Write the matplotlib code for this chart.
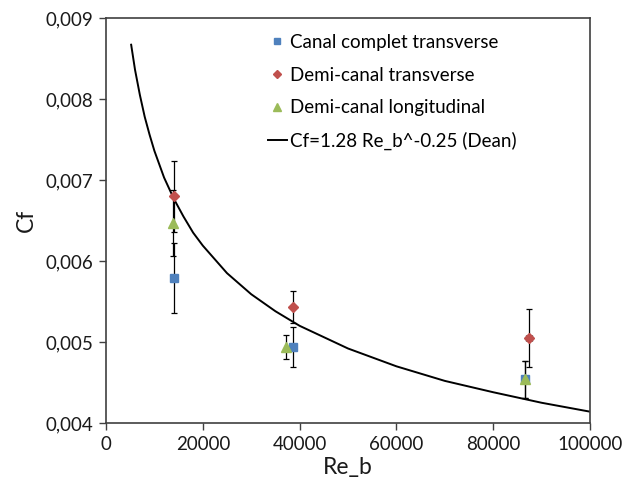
import matplotlib
matplotlib.use("Agg")
import matplotlib.pyplot as plt
import matplotlib.ticker as mticker

plt.rcParams['font.family'] = ['Lato', 'DejaVu Sans']

# measured points (Re_b, Cf, error in Cf, error in Re_b)
re_complet = [14000, 38600, 86500]
cf_complet = [0.00579, 0.00494, 0.00454]
err_complet = [0.00043, 0.00025, 0.00023]
xerr_complet = [0, 0, 600]

re_demi_tr = [14000, 38600, 87400]
cf_demi_tr = [0.00680, 0.00543, 0.00505]
err_demi_tr = [0.00044, 0.00020, 0.00036]
xerr_demi_tr = [0, 0, 600]

re_demi_lo = [13800, 37200, 86500]
cf_demi_lo = [0.00647, 0.00494, 0.00454]
err_demi_lo = [0.00041, 0.00015, 0.00023]
xerr_demi_lo = [0, 0, 600]

# Dean correlation curve
re_dean = [5200, 6000, 7000, 8000, 9000, 10000, 12000, 14000, 16000, 18000, 20000,
           25000, 30000, 35000, 40000, 50000, 60000, 70000, 80000, 90000, 100000]
cf_dean = [0.00867, 0.00836, 0.00805, 0.00778, 0.00756, 0.00736, 0.00703, 0.00677,
           0.00655, 0.00635, 0.00619, 0.00585, 0.00559, 0.00538, 0.00520, 0.00492,
           0.00470, 0.00452, 0.00438, 0.00425, 0.00414]

fig = plt.figure(figsize=(6.22, 4.9), dpi=100)
ax = fig.add_axes([0.1704, 0.1367, 0.7782, 0.8266])

eb = dict(fmt='none', ecolor='black', elinewidth=0.9, capsize=2.5, capthick=0.9, zorder=2)
ax.errorbar(re_complet, cf_complet, yerr=err_complet, xerr=xerr_complet, **eb)
ax.errorbar(re_demi_tr, cf_demi_tr, yerr=err_demi_tr, xerr=xerr_demi_tr, **eb)
ax.errorbar(re_demi_lo, cf_demi_lo, yerr=err_demi_lo, xerr=xerr_demi_lo, **eb)

ax.plot(re_complet, cf_complet, 's', color='#4F81BD', ms=5.5, ls='none',
        label='Canal complet transverse', zorder=3)
ax.plot(re_demi_tr, cf_demi_tr, 'D', color='#C0504D', ms=5.5, ls='none',
        label='Demi-canal transverse', zorder=3)
ax.plot(re_demi_lo, cf_demi_lo, '^', color='#9BBB59', ms=7, ls='none',
        label='Demi-canal longitudinal', zorder=4)
ax.plot(re_dean, cf_dean, color='black', lw=1.4,
        label='Cf=1.28 Re_b^-0.25 (Dean)', zorder=2)

ax.set_xlim(0, 100000)
ax.set_ylim(0.004, 0.009)
ax.xaxis.set_major_locator(mticker.MultipleLocator(20000))
ax.yaxis.set_major_locator(mticker.MultipleLocator(0.001))
ax.yaxis.set_major_formatter(mticker.FuncFormatter(lambda v, p: ('%.3f' % v).replace('.', ',')))
ax.tick_params(direction='out', length=5, width=1, color='#404040', labelsize=13.5,
               labelcolor='#1a1a1a', pad=4)
for s in ax.spines.values():
    s.set_color('#404040')
    s.set_linewidth(1.2)

ax.set_xlabel('Re_b', fontsize=16.5, color='#1a1a1a', labelpad=3)
ax.set_ylabel('Cf', fontsize=16.5, color='#1a1a1a', labelpad=6)

leg = ax.legend(loc='upper left', bbox_to_anchor=(0.3347, 0.9606), frameon=False, fontsize=13.5,
                handlelength=1.0, handletextpad=0.15, labelspacing=0.83, borderpad=0,
                borderaxespad=0, markerscale=0.75)

fig.savefig('out.png', dpi=100)
